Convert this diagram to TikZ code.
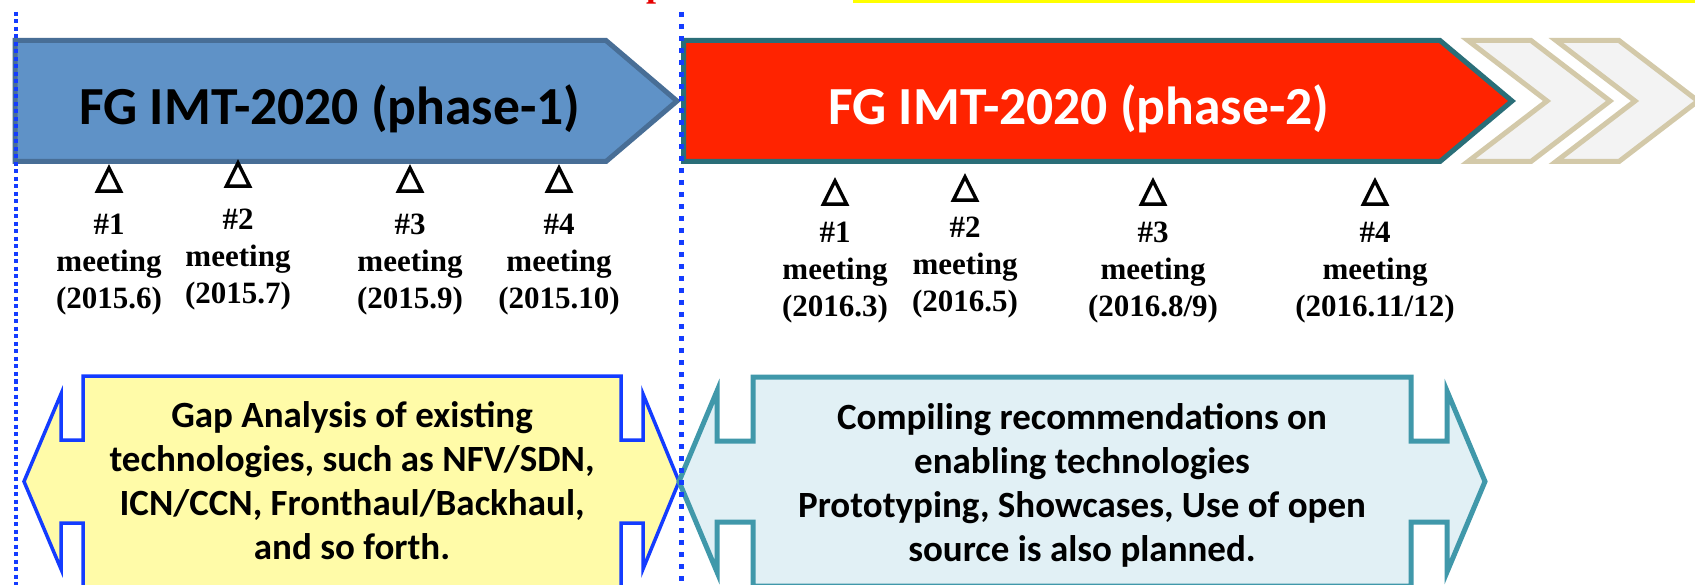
\documentclass[tikz,border=0pt]{standalone}
\usepackage{fontspec}
\setmainfont{Liberation Serif}
\newfontfamily\calibri{Carlito}
\newfontfamily\symfont[FakeBold=5]{DejaVu Sans}

\definecolor{phaseoneFill}{RGB}{95,146,199}
\definecolor{phaseoneEdge}{RGB}{72,110,150}
\definecolor{phasetwoFill}{RGB}{255,35,0}
\definecolor{phasetwoEdge}{RGB}{42,110,120}
\definecolor{chevFill}{RGB}{243,243,243}
\definecolor{chevEdge}{RGB}{211,201,169}
\definecolor{gapFill}{RGB}{255,251,168}
\definecolor{gapEdge}{RGB}{20,60,255}
\definecolor{compFill}{RGB}{225,240,245}
\definecolor{compEdge}{RGB}{64,152,170}
\definecolor{divider}{RGB}{20,60,255}
\definecolor{topbar}{RGB}{255,255,0}
\definecolor{titlered}{RGB}{230,0,0}

\tikzset{
  phasebar/.style={line width=5pt, line join=miter},
  chevron/.style={draw=chevEdge, fill=chevFill, line width=5pt},
  titletext/.style={font=\calibri\bfseries\fontsize{53.6}{64}\selectfont, inner sep=0pt, anchor=base},
  calloutbox/.style={line join=miter},
  callouttext/.style={font=\calibri\bfseries\fontsize{37}{44}\selectfont, align=center, inner sep=0pt},
  tri/.style={font=\symfont\fontsize{34}{36}\selectfont, inner sep=0pt},
  meet/.style={font=\bfseries\fontsize{31}{37}\selectfont, align=center, inner sep=0pt, anchor=north},
}

\begin{document}
\begin{tikzpicture}[x=1pt,y=-1pt]
\useasboundingbox (0,0) rectangle (1695,585);
\fill[white] (0,0) rectangle (1695,585);

% phase bars
\draw[phasebar, draw=phaseoneEdge, fill=phaseoneFill]
  (15,40.5) -- (606,40.5) -- (677,101) -- (606,161.5) -- (15,161.5) -- cycle;
\draw[phasebar, draw=phasetwoEdge, fill=phasetwoFill]
  (683.5,40.5) -- (1440,40.5) -- (1512,101) -- (1440,161.5) -- (683.5,161.5) -- cycle;

% continuation chevrons
\draw[chevron] (1468,40.5) -- (1531,40.5) -- (1610,101) -- (1531,161.5) -- (1468,161.5) -- (1547,101) -- cycle;
\draw[chevron] (1556,40.5) -- (1619,40.5) -- (1698,101) -- (1619,161.5) -- (1556,161.5) -- (1635,101) -- cycle;

\node[titletext] (phase1) at (330,125) {FG IMT-2020 (phase-1)};
\node[titletext, text=white] (phase2) at (1079,125) {FG IMT-2020 (phase-2)};

% meetings
\foreach \n/\x/\ty/\by/\num/\date in {
  a/109/179/235/1/{(2015.6)}, b/238/174/230/2/{(2015.7)},
  c/410/179/235/3/{(2015.9)}, d/559/179/235/4/{(2015.10)},
  e/835/192/243/1/{(2016.3)}, f/965/188/238/2/{(2016.5)},
  g/1153/192/243/3/{(2016.8/9)}, h/1375/192/243/4/{(2016.11/12)}} {
  \node[tri] (tri-\n) at ({\x},{\ty}) {△};
  \node[meet] (meet-\n) at ({\x},{\by-21}) {\#\num\\meeting\\\date};
}

% double-headed callouts
\draw[calloutbox, draw=gapEdge, fill=gapFill, line width=3.5pt]
  (83,376) -- (621,376) -- (621,440) -- (643,440) -- (643,394) -- (679,481.5)
  -- (643,569) -- (643,523) -- (621,523) -- (621,587) -- (83,587) -- (83,523)
  -- (61,523) -- (61,569) -- (24,481.5) -- (61,394) -- (61,440) -- (83,440) -- cycle;
\draw[calloutbox, draw=compEdge, fill=compFill, line width=5pt]
  (753,377) -- (1411,377) -- (1411,441) -- (1447,441) -- (1447,391) -- (1485,481.5)
  -- (1447,572) -- (1447,522) -- (1411,522) -- (1411,586) -- (753,586) -- (753,522)
  -- (717,522) -- (717,572) -- (679,481.5) -- (717,391) -- (717,441) -- (753,441) -- cycle;

\node[callouttext] (gap) at (352,481) {Gap Analysis of existing\\technologies, such as NFV/SDN,\\ICN/CCN, Fronthaul/Backhaul,\\and so forth.};
\node[callouttext] (comp) at (1082,485) {Compiling recommendations on\\enabling technologies\\Prototyping, Showcases, Use of open\\source is also planned.};

% dividers
\coordinate (divLtop) at (16,12);
\coordinate (divLbot) at (16,585);
\coordinate (divMtop) at (681,12);
\coordinate (divMbot) at (681,585);
\draw[divider, line width=4pt, dash pattern=on 4pt off 3.5pt] (divLtop) -- (divLbot);
\draw[divider, line width=5pt, dash pattern=on 5pt off 7pt] (divMtop) -- (divMbot);

% heading remnants along the top edge
\fill[topbar] (853,0) rectangle (1695,3.5);
\node[anchor=base west, text=titlered, font=\bfseries\fontsize{36}{40}\selectfont, inner sep=0pt] (headfrag) at (646,-3) {p};
\end{tikzpicture}
\end{document}
